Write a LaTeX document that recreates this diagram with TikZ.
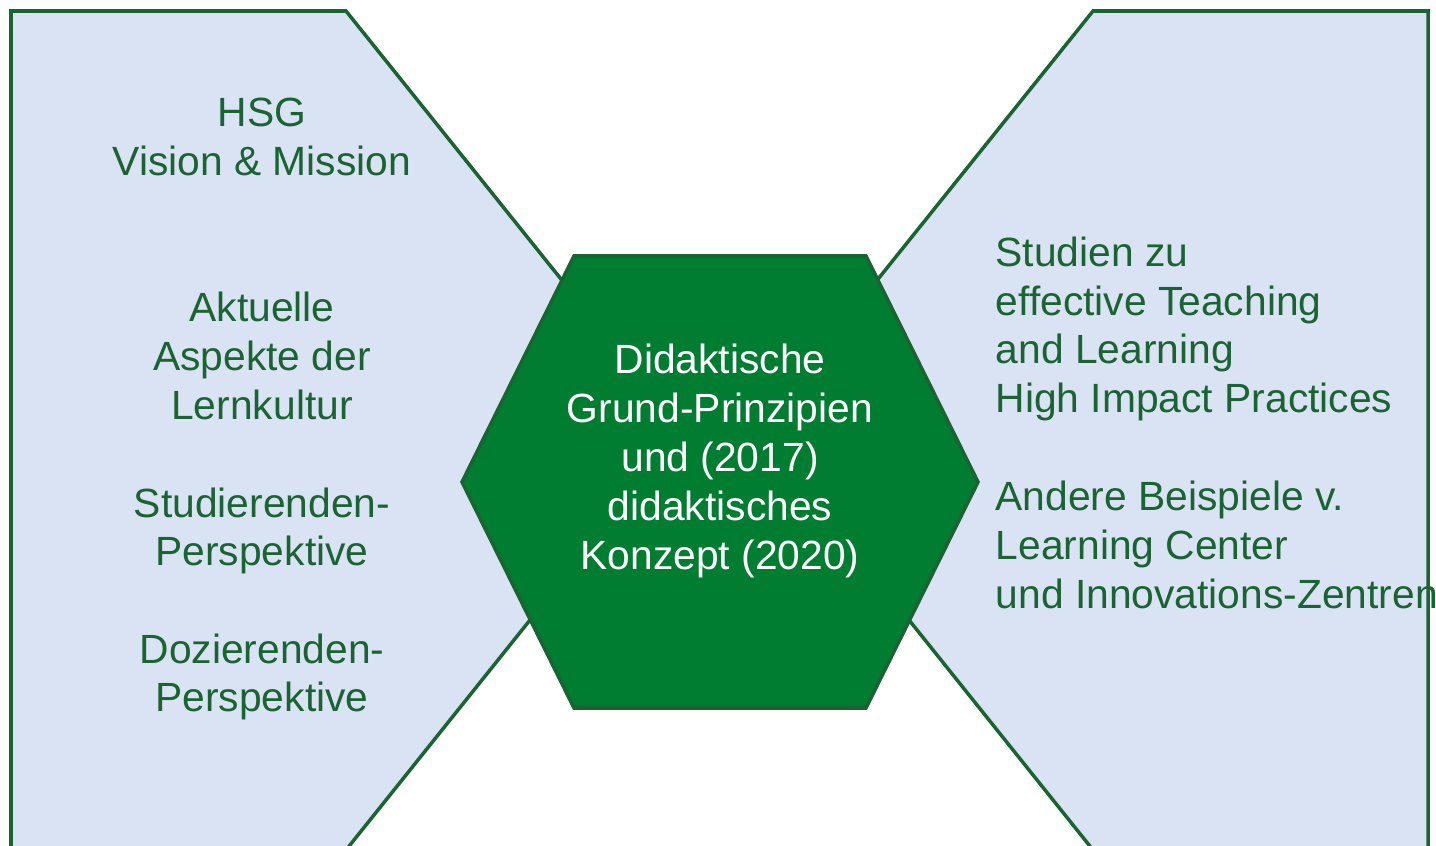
\documentclass[tikz,border=0pt]{standalone}
\usepackage{fontspec}
\setmainfont{Liberation Sans}
\usepackage{tikz}
\usetikzlibrary{positioning}
\definecolor{panelblue}{RGB}{218,227,243}
\definecolor{hexgreen}{RGB}{0,125,48}
\definecolor{edgegreen}{RGB}{26,99,50}
\tikzstyle{panel} = [draw=edgegreen, fill=panelblue, line width=1pt]
\tikzstyle{hexa} = [draw=edgegreen, fill=hexgreen, line width=1pt]
\tikzstyle{sidetext} = [text=edgegreen, inner sep=0pt,
    font=\fontsize{11.6}{13.9}\selectfont]
\tikzstyle{hextext} = [text=white, align=center, inner sep=0pt,
    font=\fontsize{11.6}{13.9}\selectfont]

\begin{document}
\begin{tikzpicture}[x=0.01cm, y=-0.01cm]
    \useasboundingbox (0,0) rectangle (1436,846);
    \clip (0,0) rectangle (1436,846);
    % Place panels
    \draw [panel] (11,11) -- (346,11) -- (682,430) -- (346,850) -- (11,850) -- cycle;
    \draw [panel] (1093,11) -- (1428,11) -- (1428,850) -- (1093,850) -- (757,430) -- cycle;
    \draw [hexa] (574,256) -- (866,256) -- (978,482) -- (866,708) -- (574,708) -- (462,482) -- cycle;
    % Place nodes
    \node [hextext] (konzept) at (720,461) {Didaktische\\Grund-Prinzipien\\und (2017)\\didaktisches\\Konzept (2020)};
    \node [sidetext, align=center] (vision) at (262,137) {HSG\\Vision \& Mission};
    \node [sidetext, align=center] (lernkultur) at (262,356) {Aktuelle\\Aspekte der\\Lernkultur};
    \node [sidetext, align=center] (studierende) at (262,531) {Studierenden-\\Perspektive};
    \node [sidetext, align=center] (dozierende) at (262,677) {Dozierenden-\\Perspektive};
    \node [sidetext, align=left, anchor=west] (studien) at (995,329) {Studien zu\\effective Teaching\\and Learning\\High Impact Practices};
    \node [sidetext, align=left, anchor=west] (beispiele) at (995,545) {Andere Beispiele v.\\Learning Center\\und Innovations-Zentren};
\end{tikzpicture}
\end{document}
